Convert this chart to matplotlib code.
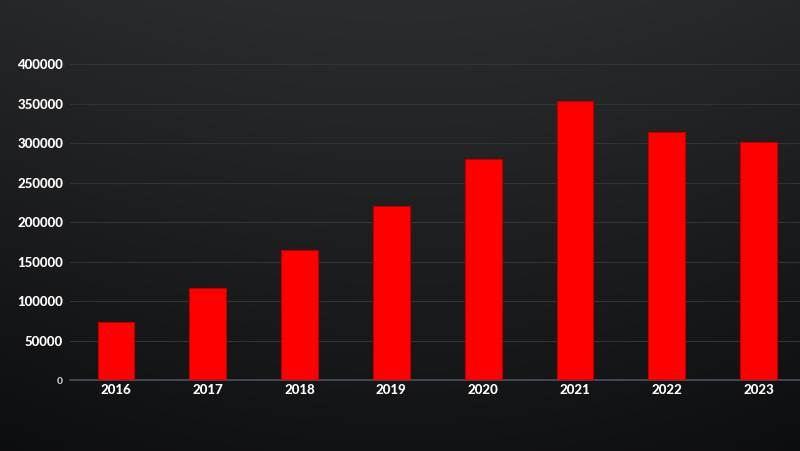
import numpy as np
import matplotlib.pyplot as plt

years = ["2016", "2017", "2018", "2019", "2020", "2021", "2022", "2023"]
values = [74000, 117000, 165000, 221000, 280500, 353500, 314000, 302000]
yticks = [0, 50000, 100000, 150000, 200000, 250000, 300000, 350000, 400000]

fig = plt.figure(figsize=(8, 4.51), dpi=100)

# background gradient
bg = fig.add_axes([0, 0, 1, 1], zorder=-10)
yy = np.linspace(0, 1, 200)[:, None]
xx = np.linspace(-1, 1, 300)[None, :]
shade = 0.17 - 0.10 * yy - 0.02 * xx ** 2
bg.imshow(np.dstack([shade, shade + 0.003, shade + 0.008]).clip(0, 1),
          aspect="auto", extent=[0, 1, 0, 1], origin="upper")
bg.axis("off")

ax = fig.add_axes([0.0875, 0.157, 0.9125, 0.70])
ax.set_facecolor("none")
x = np.arange(len(years))
ax.bar(x, values, width=0.4, color="#ff0000", edgecolor="#b80000", linewidth=0.8, zorder=3)

ax.set_xlim(-0.5, 7.45)
ax.set_ylim(0, 400000)
ax.set_yticks(yticks)
ax.set_yticklabels([str(v) for v in yticks])
ax.set_xticks(x)
ax.set_xticklabels(years)
ax.grid(axis="y", color="#323335", linewidth=0.8, zorder=0)
for s in ["top", "right", "left"]:
    ax.spines[s].set_visible(False)
ax.spines["bottom"].set_color("#4a5160")
ax.spines["bottom"].set_linewidth(1.2)
ax.tick_params(length=0, pad=5, labelcolor="white")
for lab in ax.get_xticklabels() + ax.get_yticklabels():
    lab.set_fontfamily("Lato")
    lab.set_fontweight("black")
    lab.set_fontsize(9.5)
ax.get_yticklabels()[0].set_fontsize(7.5)
ax.get_yticklabels()[0].set_color("#cccccc")
ax.tick_params(axis="x", pad=3)

fig.savefig("out.png", dpi=100)
